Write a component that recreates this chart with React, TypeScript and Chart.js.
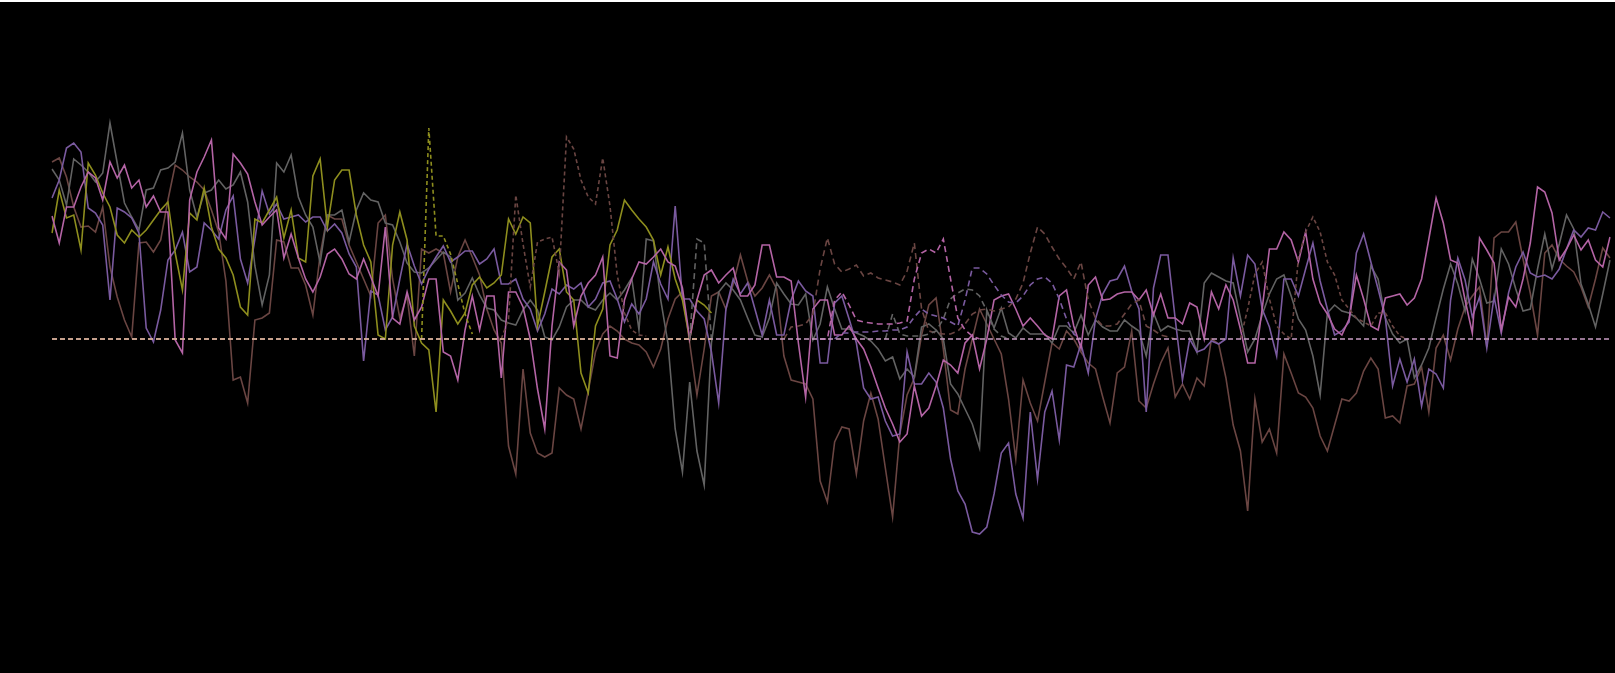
import React, { useEffect, useRef } from "react";
import { Chart, registerables } from "chart.js";

Chart.register(...registerables);

const N = 216;
const startYear = 2006;
const categories: string[] = Array.from({ length: N }, (_, i) => `${startYear + Math.floor(i / 12)}-${String((i % 12) + 1).padStart(2, "0")}`);

const gray = [
  170, 159, 134, 180, 174, 167, 157, 166, 216, 176, 136, 122, 109, 149, 151, 169, 171, 177, 206, 149, 122, 146, 149,
  159, 150, 154, 167, 137, 73, 34, 64, 176, 167, 184, 142, 124, 112, 76, 124, 124, 129, 97, 129, 146, 139, 137, 116, 114,
  97, 76, 67, 66, 71, 79, 87, 82, 39, 46, 61, 44, 31, 29, 19, 16, 14, 29, 39, 29, 2, -1, 12, 32, 39, 39, 32, 29, 39, 46, 39, 49, 61, 9, 100,
  98, 39, -4, -90, -133, -43, -112, -146, -4, 47, 56, 49, 39, 21, 4, 2, 21, 56,
  45, 35, 34, 45, -1, 15, 52, 30, 10, 10, 6, 3, -2, -10, -22, -18, -40, -30, -38, 12, 15, 9,
  0, -45, -55, -70, -85, -109, 29, 11, 31, 6, 1, 11, 5, 5,
  5, -4, 13, 13, 6, 24, 4, 19, 12, 8, 8, 19, 13, 8, -17, 26, 8, 13, 10, 8, 8, -13, 56, 66, 62, 58, 56, 21, -13, 0,
  24, 45, 60, 64, 43, 20, 9, -17, -56, 26, 34, 28, 26, 21, 13, 73, 60, 21, 5, -4, 0, -39, -26, -9, 21,
  50, 75, 55, 28, 80, 60, 36, 38, 90, 75, 50, 28, 30, 70, 105, 70, 95, 124, 110, 55, 35, 12, 45, 79,
];

const purple = [
  141, 159, 191, 196, 187, 131, 126, 114, 39, 131, 127, 121, 106, 11, -3, 29, 79, 89, 107, 67, 72, 116, 109,
  100, 129, 143, 80, 56, 100, 148, 125, 135, 120, 122, 124, 117, 122, 122, 108, 115, 106, 85, 72,
  -22, 48, 44, 9, 22, 60, 95, 73, 55, 70, 82, 93, 77, 82, 88, 88, 75, 80, 90, 55, 55, 60, 40, 30, 8,
  25, 50, 45, 54, 50, 56, 32, 40, 56, 58, 40, 17, 35, 25, 40, 77, 55, 40, 133, 40,
  40, 28, 20, -13, -64, 30, 60, 45, 56, 30, 4, 39, 4, 4, 39, 58, 48, 43, -24, -24,
  36, 43, 20, -4, -49, -60, -58, -82, -97, -95, -13, -45, -45, -34, -43, -69,
  -120, -152, -165, -193, -195, -188, -155, -114, -104, -155, -179, -73, -140, -73, -52,
  -101, -26, -28, -5, -34, 20, 45, 58, 60, 73, 48, 30, -73, 51, 84, 84, 20, -41, 0, -13,
  -10, -2, -5, 0, 81, 43, 84, 75, 30, 12, -17, 60, 60, 43, 70, 96, 58, 30, 4, 8,
  17, 86, 105, 77, 50, 21, -47, -20, -43, -20, -67, -30, -35,
  -49, 39, 81, 59, 22, 42, -9, 42, 6, 46, 72, 87, 66, 62, 64, 60, 70, 90, 109, 102, 111, 109, 127, 121,
];

const pink = [
  123, 96, 132, 132, 152, 167, 161, 139, 177, 161, 174, 151, 159, 132, 143, 127, 127, -1, -14, 139, 167, 182, 199,
  111, 100, 185, 176, 165, 137, 114, 122, 129, 81, 105, 81, 60, 47, 62, 85, 90, 80, 65, 60,
  80, 62, 43, 112, 21, 15, 47, 19, 32, 60, 60, -13, -17, -41, 9, 43, 9, 43, 43, -39, 47, 47, 32, 0, -50,
  -90, 13, 77, 69, 13, 43, 56, 64, 82, -17, -19, 39, 60, 77, 75, 82, 90, 77, 73, 51,
  0, 39, 64, 69, 56, 64, 71, 43, 43, 54, 94, 94, 62, 62, 58, -4, -58, 30, 39, 39,
  4, 4, 13, 0, -10, -28, -49, -69, -85, -103, -95, -47, -77, -69, -47, -21, -26, -34, -4, 4,
  -30, 0, 39, 43, 45, 30, 13, 21, 13, 4, 0,
  43, 49, 13, -9, 54, 62, 39, 40, 45, 47, 47, 39, 49, 24, 45, 21, 21, 15, 36, 32,
  0, 47, 30, 54, 39, 10, -24, -24, 30, 90, 90, 107, 99, 77, 107, 60, 36, 25, 10, 4,
  20, 64, 40, 13, 9, 41, 43, 45, 34, 41, 60, 100, 141, 116, 79, 76, 39, 6, 101, 89,
  76, 9, 42, 32, 60, 96, 152, 147, 126, 79, 90, 104, 89, 99, 79, 72, 102,
];

const brown = [
  177, 181, 162, 132, 112, 113, 107, 132, 72, 42, 19, 2, 96, 97, 87, 99, 139, 174, 169, 162, 157, 149, 129,
  107, 58, -41, -38, -64, 19, 21, 26, 99, 97, 71, 71, 54, 24, 84, 124, 120, 120, 94, 77,
  60, 43, 116, 124, 60, 21, 43, -17, 90, 86, 90, 86, 47, 82, 99, 82, 64, 30, 9, -4, -107, -135, -30, -94, -114,
  -118, -114, -49, -56, -60, -90, -52, -13, 5, 13, 8, 0, -4, -6, -13, -28, -10, 20, 40, 47,
  -4, -56, -10, 43, 47, 30, 55, 84, 58, 43, 51, 64, 50, -17, -41, -43, -45, -60, -142, -163,
  -103, -88, -90, -135, -82, -54, -80, -129, -178, -95, -56, -39, 4, 34, 41, -10, -71, -75, -30, 0,
  30, 15, 0, -15, -60, -120, -41, -64, -82, -43, -4,
  -10, 8, 0, -13, -24, -30, -58, -84, -34, -28, 8, -62, -69, -45, -24, -9, -58, -45, -60, -39,
  -47, 0, -5, -39, -86, -112, -172, -60, -103, -90, -114, -15, -34, -54, -58, -69, -97, -112, -86, -60,
  -62, -54, -32, -19, -30, -79, -77, -84, -47, -45, -28, -73, -9, 4, -21, 10, 32, 43, 52, -8,
  101, 107, 107, 117, 80, 46, 4, 86, 94, 80, 73, 67, 52, 32, 60, 91, 81,
];

const olive = [
  106, 149, 121, 124, 89, 176, 164, 146, 132, 104, 96, 109, 102, 109, 119, 129, 137, 86, 49, 126, 119, 151, 112,
  90, 81, 64, 32, 24, 120, 116, 129, 142, 101, 129, 81, 77, 163, 180, 112, 159, 169, 169, 124,
  94, 77, 4, 0, 94, 127, 99, 13, -4, -11, -73, 39, 28, 15, 26, 54, 62, 51, 56, 64,
  120, 105, 122, 116, 13, 47, 82, 90, 47, 39, -34, -54, 13, 30, 94, 109, 139, 129, 120, 112,
  99, 64, 92, 60, 39, 0, 39, 34, 26,
];

// projection segments: [start index, values]
const oliveProjStart = 51;
const oliveProj = [0, 211, 103, 103, 85, 55, 25, 5];
const brownProjAStart = 62;
const brownProjA = [0, 20, 144, 95, 52, 97, 100, 102, 66, 202, 190, 159, 142, 135, 181, 133, 64, 26, 9, 4, 3];
const brownProjBStart = 101;
const brownProjB = [
  0, 12, 13, 15, 25, 70, 101, 75, 67, 70, 74, 63, 66, 61, 59, 57, 54, 68, 96, 30, 8, 6, 5, 5, 8, 15, 25, 29, 30, 28,
  30, 32, 40, 56, 86, 112, 105, 92, 80, 71, 60, 77, 39, 21, 13, 13, 15, 25, 35, 39, 13, 9, 4, 2, 0,
];
const brownProjCStart = 164;
const brownProjC = [0, 30, 65, 77, 40, 13, 5, 0, 81, 107, 122, 107, 77, 64, 39, 30, 21, 17, 13, 26, 26, 13, 3, 0];
const grayProjAStart = 88;
const grayProjA = [0, 100, 96, 0];
const grayProjBStart = 115;
const grayProjB = [0, 25, 5, 3, 3, 3, 5, 8, 20, 40, 46, 50, 49, 43, 28, 10, 3, 0];
const pinkProjStart = 106;
const pinkProj = [0, 0, 39, 47, 34, 19, 17, 16, 15, 15, 15, 16, 18, 60, 86, 90, 86, 100, 60, 21, 9, 3, 0];
const purpleProjStart = 108;
const purpleProj = [0, 6, 6, 7, 7, 7, 8, 8, 9, 9, 12, 22, 30, 25, 23, 21, 17, 13, 39, 71, 71, 65, 54, 44, 37, 36, 43, 54, 60, 62, 56, 40, 20, 5, 0];

const baselineLeftEnd = 91;

function place(...segs: [number, number[]][]) {
  const a: (number | null)[] = new Array(N).fill(null);
  segs.forEach(([s, vals]) => vals.forEach((v, k) => { a[s + k] = v; }));
  return a;
}

const C = {
  gray: "#626262",
  purple: "#7a5a9f",
  pink: "#b464a5",
  brown: "#6a4542",
  olive: "#8e8e1e",
  peach: "#d6b08c",
  lilac: "#c99dc3",
};

export default function App() {
  const ref = useRef<HTMLCanvasElement | null>(null);
  useEffect(() => {
    document.body.style.margin = "0";
    document.body.style.background = "#ffffff";
    if (!ref.current) return;
    const solid = (label: string, data: (number | null)[], color: string, order: number) => ({
      label, data, borderColor: color, backgroundColor: color, borderWidth: 1.6, order, fill: false, pointRadius: 0, spanGaps: false,
    });
    const dashed = (label: string, data: (number | null)[], color: string, order: number, dash: number[]) => ({
      ...solid(label, data, color, order), borderDash: dash,
    });
    const zeroLeft = place([0, new Array(baselineLeftEnd + 1).fill(0)]);
    const zeroAll = place([0, new Array(N).fill(0)]);
    const chart = new Chart(ref.current, {
      type: "line",
      data: {
        labels: categories,
        datasets: [
          solid("Brown", brown, C.brown, 20),
          solid("Gray", gray, C.gray, 19),
          solid("Purple", purple, C.purple, 18),
          solid("Olive", place([0, olive]), C.olive, 17),
          solid("Pink", pink, C.pink, 16),
          dashed("Olive proj", place([oliveProjStart, oliveProj]), C.olive, 8, [4, 3]),
          dashed("Brown proj", place([brownProjAStart, brownProjA], [brownProjCStart, brownProjC]), C.brown, 8, [4, 3]),
          dashed("Brown proj 2", place([brownProjBStart, brownProjB]), C.brown, 8, [6, 4]),
          dashed("Gray proj", place([grayProjAStart, grayProjA], [grayProjBStart, grayProjB]), C.gray, 7, [6, 4]),
          dashed("Pink proj", place([pinkProjStart, pinkProj]), C.pink, 6, [6, 4]),
          dashed("Purple proj", place([purpleProjStart, purpleProj]), C.purple, 5, [6, 4]),
          dashed("Zero", zeroAll, C.lilac, 2, [5, 3]),
          dashed("Zero left", zeroLeft, C.peach, 1, [5, 3]),
        ] as any,
      },
      options: {
        animation: false,
        responsive: true,
        maintainAspectRatio: false,
        layout: { padding: { left: 52, right: 5, top: 0, bottom: 0 } },
        plugins: { legend: { display: false }, tooltip: { enabled: false } },
        scales: {
          x: { display: false, offset: false },
          y: { display: false, min: -334, max: 337 },
        },
        elements: { point: { radius: 0 }, line: { tension: 0 } },
      },
    });
    return () => chart.destroy();
  }, []);
  return (
    <div style={{ width: "100%", height: 671, marginTop: 2, background: "#000", position: "relative" }}>
      <canvas ref={ref} />
    </div>
  );
}
